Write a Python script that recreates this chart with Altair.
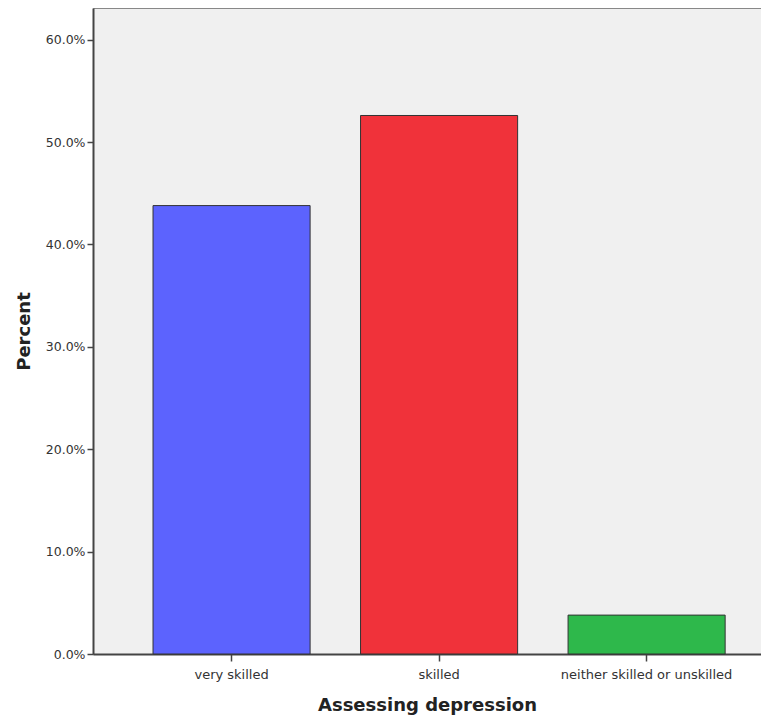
import altair as alt
import pandas as pd

categories = ["very skilled", "skilled", "neither skilled or unskilled"]
percents = [0.438, 0.526, 0.038]
colors = ["#5C63FE", "#F0323A", "#2EB84B"]

df = pd.DataFrame({"cat": categories, "pct": percents})

chart = alt.Chart(df).mark_bar(stroke="#333333", strokeWidth=1).encode(
    x=alt.X("cat:N", sort=categories,
            scale=alt.Scale(paddingInner=0.243, paddingOuter=0.231, align=0.626),
            axis=alt.Axis(title="Assessing depression", labelAngle=0, tickSize=7,
                          labelPadding=7, titlePadding=15, labelFontSize=13)),
    y=alt.Y("pct:Q", scale=alt.Scale(domain=[0, 0.631], nice=False),
            axis=alt.Axis(title="Percent", format=".1%", values=[0, 0.1, 0.2, 0.3, 0.4, 0.5, 0.6],
                          tickSize=6, labelPadding=2, titlePadding=12, grid=False,
                          labelFontSize=12.5)),
    color=alt.Color("cat:N", sort=categories,
                    scale=alt.Scale(domain=categories, range=colors), legend=None),
).properties(
    width=668, height=646,
    autosize=alt.AutoSizeParams(type="none"),
    padding={"left": 85, "top": 0, "right": 0, "bottom": 62},
).configure_view(
    fill="#F0F0F0", stroke="#888888", strokeWidth=1
).configure_axis(
    labelFont="DejaVu Sans", labelColor="#333333",
    titleFont="DejaVu Sans", titleFontSize=18, titleFontWeight="bold", titleColor="#222222",
    domainColor="#444444", domainWidth=2, tickColor="#444444", tickWidth=1.5,
)

chart.save("out.html", embed_options={"renderer": "svg", "actions": False})
